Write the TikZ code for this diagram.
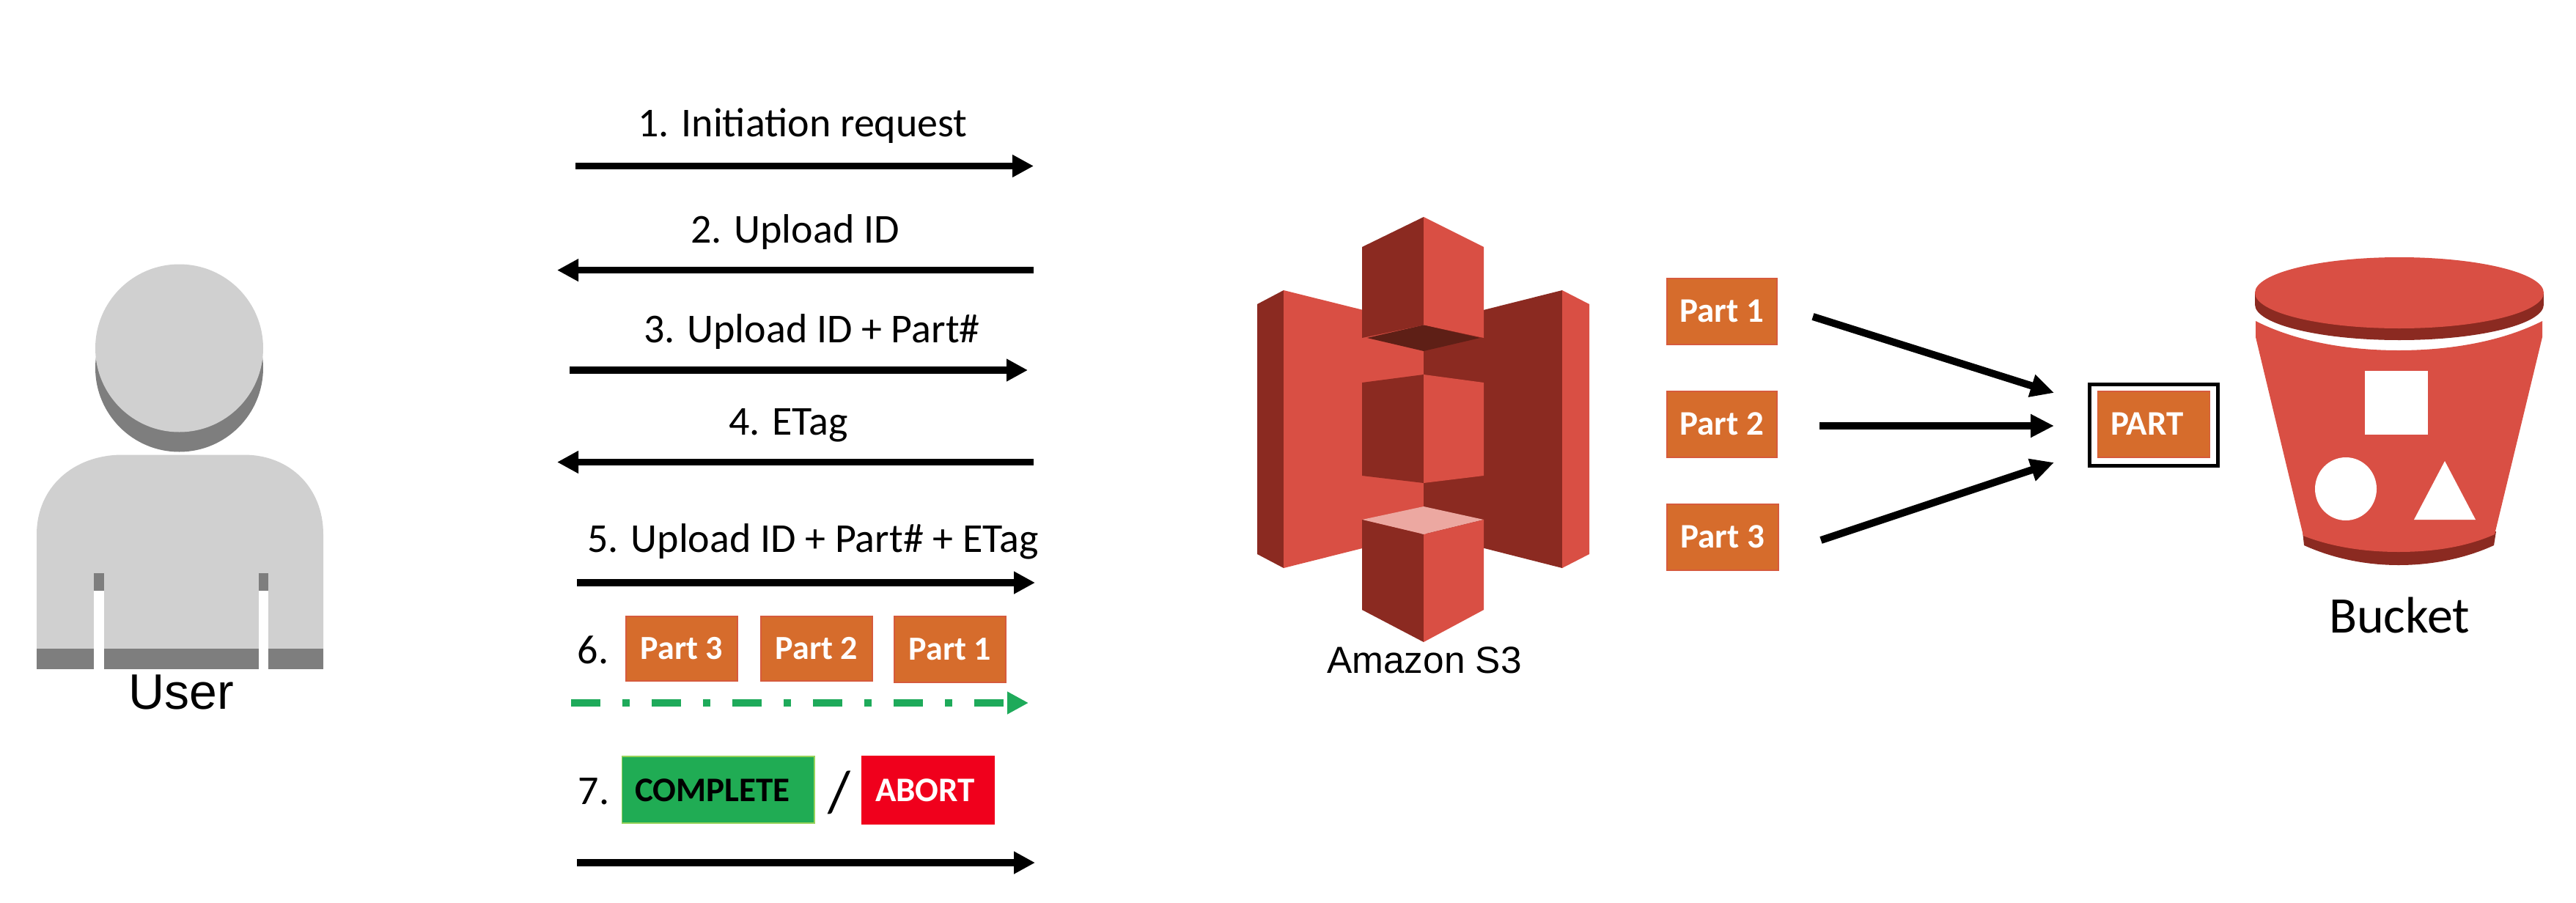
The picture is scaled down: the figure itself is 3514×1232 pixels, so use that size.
\documentclass[tikz,border=0pt]{standalone}
\usepackage{fontspec}
\setmainfont{Carlito}
\newfontfamily\userfont{Liberation Sans}
\usetikzlibrary{arrows.meta}
\definecolor{greyL}{RGB}{208,208,208}
\definecolor{greyD}{RGB}{126,126,126}
\definecolor{awsL}{RGB}{217,79,68}
\definecolor{awsD}{RGB}{139,42,33}
\definecolor{awsU}{RGB}{94,31,22}
\definecolor{awsT}{RGB}{236,168,161}
\definecolor{partC}{RGB}{214,108,44}
\definecolor{partE}{RGB}{214,90,60}
\definecolor{okC}{RGB}{32,172,84}
\definecolor{okE}{RGB}{150,210,90}
\definecolor{noC}{RGB}{240,0,28}
\definecolor{dashC}{RGB}{30,170,90}
\tikzset{
  flowarrow/.style={line width=4.8pt,-{Triangle[length=14.5pt,width=14.5pt]}},
  inarrow/.style={line width=5pt,-{Triangle[length=16pt,width=15pt]}},
  dasharrow/.style={draw=dashC,line width=5pt,dash pattern=on 20pt off 15pt on 5pt off 15pt,-{Triangle[length=14.5pt,width=14.5pt,fill=dashC]}},
  flowtext/.style={anchor=base,inner sep=0pt,font=\fontsize{28}{32}\selectfont},
  boxbase/.style={draw,line width=0.7pt,inner ysep=0pt,text height=14pt,text depth=0pt},
  partL/.style={boxbase,draw=partE,fill=partC,text=white,inner xsep=0pt,minimum width=76pt,minimum height=44pt,font=\bfseries\fontsize{23}{25}\selectfont},
  partR/.style={boxbase,draw=partE,fill=partC,text=white,inner xsep=0pt,minimum width=75pt,minimum height=45pt,font=\bfseries\fontsize{23.5}{25}\selectfont},
}
\begin{document}
\begin{tikzpicture}[x=0.5pt,y=-0.5pt]
\useasboundingbox (0,0) rectangle (3514,1232);
% User icon
\fill[greyD] (244.5,502) circle [radius=114.5];
\fill[greyL] (244.5,475) circle [radius=114.5];
\fill[greyL] (50,912) -- (50,729) .. controls (50,665) and (100,620.5) .. (167,620.5) -- (333,620.5) .. controls (395,620.5) and (441,665) .. (441,729) -- (441,912) -- cycle;
\fill[greyD] (50,885) rectangle (441,912.5);
\fill[white] (128,806) rectangle (142,913);
\fill[white] (353,806) rectangle (366,913);
\fill[greyD] (128,782) rectangle (142,806);
\fill[greyD] (353,782) rectangle (366,806);
\node[anchor=base,inner sep=0pt,font=\userfont\fontsize{34}{38}\selectfont] (usertxt) at (247,967) {User};
% Flow labels
\node[flowtext] (t1) at (1095,186) {1. Initiation request};
\node[flowtext] (t2) at (1084.5,331.6) {2. Upload ID};
\node[flowtext] (t3) at (1107.5,467) {3. Upload ID + Part\#};
\node[flowtext] (t4) at (1075.5,593.5) {4. ETag};
\node[flowtext] (t5) at (1109,753) {5. Upload ID + Part\# + ETag};
\node[flowtext] (t6) at (809,905) {6.};
\node[flowtext] (t7) at (810,1097) {7.};
% Flow ends
\coordinate (a1s) at (785,226.5);  \coordinate (a1e) at (1410,226.5);
\coordinate (a2s) at (1410,368.6); \coordinate (a2e) at (760,368.6);
\coordinate (a3s) at (777,505);    \coordinate (a3e) at (1402,505);
\coordinate (a4s) at (1410,630.5); \coordinate (a4e) at (760,630.5);
\coordinate (a5s) at (787,795);    \coordinate (a5e) at (1412,795);
\coordinate (a6s) at (779,959);    \coordinate (a6e) at (1403,959);
\coordinate (a7s) at (787,1177);   \coordinate (a7e) at (1412,1177);
\draw[flowarrow] (a1s) -- (a1e);
\draw[flowarrow] (a2s) -- (a2e);
\draw[flowarrow] (a3s) -- (a3e);
\draw[flowarrow] (a4s) -- (a4e);
\draw[flowarrow] (a5s) -- (a5e);
\draw[dasharrow] (a6s) -- (a6e);
\draw[flowarrow] (a7s) -- (a7e);
% Row 6 parts
\node[partL] (l3) at (930,885) {Part 3};
\node[partL] (l2) at (1114,885) {Part 2};
\node[partL,minimum height=45pt] (l1) at (1296,886) {Part 1};
% Row 7
\node[boxbase,draw=okE,fill=okC,text=black,inner xsep=8.75pt,text width=113.75pt,align=left,minimum height=45.5pt,text height=15.5pt,font=\bfseries\fontsize{23.5}{25}\selectfont] (complete) at (979.75,1077.5) {COMPLETE};
\node[anchor=base,inner sep=0pt,font=\fontsize{40}{44}\selectfont] (slash) at (1145,1107) {/};
\node[boxbase,draw=noC,fill=noC,text=white,inner xsep=9pt,text width=72pt,align=left,minimum height=46pt,text height=15.5pt,font=\bfseries\fontsize{23.5}{25}\selectfont] (abort) at (1266,1078) {ABORT};
% Amazon S3 icon
\fill[awsD] (1715,415) -- (1751,396) -- (1751,775) -- (1715,756) -- cycle;
\fill[awsL] (1751,396) -- (1942,443.5) -- (1942,727) -- (1751,775) -- cycle;
\fill[awsD] (2131,396) -- (1942,443.5) -- (1942,727) -- (2131,775) -- cycle;
\fill[awsL] (2131,396) -- (2168,415) -- (2168,756) -- (2131,775) -- cycle;
% top cube
\fill[awsD] (1858,337) -- (1942,296) -- (1942,443.5) -- (1858,461) -- cycle;
\fill[awsL] (2024,337) -- (1942,296) -- (1942,443.5) -- (2024,461) -- cycle;
\fill[awsU] (1865,461) -- (1942,443.5) -- (2019,461) -- (1942,479) -- cycle;
% middle cube
\fill[awsD] (1858,522) -- (1942,511) -- (1942,659) -- (1858,649) -- cycle;
\fill[awsL] (2024,522) -- (1942,511) -- (1942,659) -- (2024,649) -- cycle;
% bottom cube
\fill[awsT] (1942,691) -- (1858,709) -- (1942,729) -- (2024,709) -- cycle;
\fill[awsD] (1858,709) -- (1942,729) -- (1942,876) -- (1858,832) -- cycle;
\fill[awsL] (2024,709) -- (1942,729) -- (1942,876) -- (2024,832) -- cycle;
\node[anchor=base,inner sep=0pt,font=\userfont\fontsize{25.7}{29}\selectfont] (s3txt) at (1943,918) {Amazon S3};
% Parts
\node[partR] (p1) at (2349,425) {Part 1};
\node[partR] (p2) at (2349,579) {Part 2};
\node[partR,minimum width=76pt] (p3) at (2350,733) {Part 3};
\node[boxbase,draw=partE,fill=partC,text=white,inner xsep=8.8pt,text width=59pt,align=left,minimum height=45pt,font=\bfseries\fontsize{23.5}{25}\selectfont] (part) at (2938,579) {PART};
\draw[line width=2.5pt] (2850.5,524.5) rectangle (3025.5,635.5);
\coordinate (m1s) at (2473,432); \coordinate (m1e) at (2802,536);
\coordinate (m2s) at (2482,581); \coordinate (m2e) at (2802,581);
\coordinate (m3s) at (2484,737); \coordinate (m3e) at (2802,631);
\draw[inarrow] (m1s) -- (m1e);
\draw[inarrow] (m2s) -- (m2e);
\draw[inarrow] (m3s) -- (m3e);
% Bucket icon
\fill[awsD] (3141,725) -- (3143,744) .. controls (3185,763) and (3230,771) .. (3272,771) .. controls (3320,771) and (3365,761) .. (3402,744) -- (3405,725) -- cycle;
\fill[awsL] (3077,438) .. controls (3130,465) and (3200,478) .. (3272,478) .. controls (3345,478) and (3415,465) .. (3468,438) -- (3468,460) -- (3403,729) .. controls (3365,746) and (3320,753) .. (3272,753) .. controls (3225,753) and (3180,746) .. (3142,731) -- (3077,460) -- cycle;
\fill[awsD] (3273,415.5) ellipse [x radius=197,y radius=48.5];
\fill[awsD] (3076,399.5) rectangle (3470,415.5);
\fill[awsL] (3273,399.5) ellipse [x radius=197,y radius=48.5];
\fill[white] (3226,506) rectangle (3312,593);
\fill[white] (3200,667) ellipse [x radius=42,y radius=43];
\fill[white] (3335,629) -- (3293,709) -- (3377,709) -- cycle;
\node[anchor=base,inner sep=0pt,font=\fontsize{35}{39}\selectfont] (bucket) at (3273,863) {Bucket};
\end{tikzpicture}
\end{document}
